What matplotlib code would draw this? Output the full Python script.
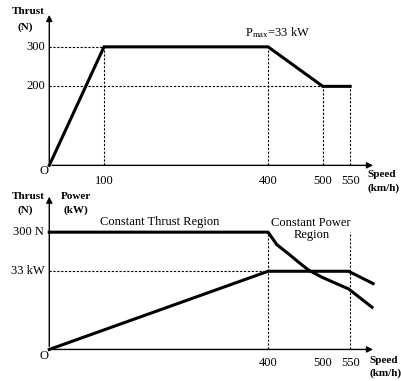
import matplotlib as mpl
import matplotlib.pyplot as plt

# data
speed_top = [0, 100, 400, 500, 550]
thrust_top = [0, 300, 300, 200, 200]

speed_thrust = [0, 400, 416, 437, 455, 474, 498, 532, 547, 590]
thrust_bot = [300, 300, 268, 245, 224, 203, 185, 164, 155, 108]

speed_power = [0, 400, 547, 592]
power_bot = [0, 33, 33, 27.8]
power_scale = 200 / 33.0  # 33 kW drawn at the 200 level

top_ticks = [100, 400, 500, 550]
bot_ticks = [400, 500, 550]

# configuration
mpl.rcParams['font.family'] = 'Liberation Serif'
mpl.rcParams['font.size'] = 9
mpl.rcParams['mathtext.default'] = 'regular'

fig = plt.figure(figsize=(4.02, 3.81), dpi=100)
ax1 = fig.add_axes([0, 190 / 381, 1, 191 / 381])
ax2 = fig.add_axes([0, 0, 1, 190 / 381])
ax1.set_xlim(-90.1, 644.8)
ax1.set_ylim(-64.9, 418.6)
ax2.set_xlim(-90.1, 644.8)
ax2.set_ylim(-80.7, 405.3)

dot = dict(color='k', lw=0.8, ls=(0, (2, 1.5)))
arrow = dict(arrowstyle='-|>', color='k', lw=1.0, mutation_scale=9)

for ax, ytop in [(ax1, 388), (ax2, 398)]:
    ax.axis('off')
    ax.annotate('', xy=(597, 0), xytext=(0, 0), arrowprops=arrow)
    ax.annotate('', xy=(0, ytop), xytext=(0, 0), arrowprops=arrow)

# top chart
ax1.plot([0, 100], [300, 300], **dot)
ax1.plot([0, 500], [200, 200], **dot)
ax1.plot([100, 100], [0, 300], **dot)
ax1.plot([400, 400], [0, 300], **dot)
ax1.plot([500, 500], [0, 200], **dot)
ax1.plot([550, 550], [0, 200], **dot)
ax1.plot(speed_top, thrust_top, color='k', lw=2.2, solid_joinstyle='miter')

ax1.text(-38, 390, 'Thrust', ha='center', va='center', fontsize=8, fontweight='bold')
ax1.text(-44, 350, '(N)', ha='center', va='center', fontsize=8, fontweight='bold')
ax1.text(-8, 300, '300', ha='right', va='center')
ax1.text(-8, 200, '200', ha='right', va='center')
ax1.text(-10, -14, 'O', ha='center', va='center')
for t in top_ticks:
    ax1.text(t, -39, str(t), ha='center', va='center')
ax1.text(358, 335, 'P$_{max}$=33 kW', ha='left', va='center')
ax1.text(582, -24, 'Speed', ha='left', va='center', fontsize=8, fontweight='bold')
ax1.text(582, -58, '(km/h)', ha='left', va='center', fontsize=8, fontweight='bold')

# bottom chart
ax2.plot([0, 400], [200, 200], **dot)
ax2.plot([400, 400], [0, 300], **dot)
ax2.plot([550, 550], [0, 300], **dot)
ax2.plot(speed_thrust, thrust_bot, color='k', lw=2.2)
ax2.plot(speed_power, [p * power_scale for p in power_bot], color='k', lw=2.2)

ax2.text(-38, 390, 'Thrust', ha='center', va='center', fontsize=8, fontweight='bold')
ax2.text(-44, 357, '(N)', ha='center', va='center', fontsize=8, fontweight='bold')
ax2.text(49, 390, 'Power', ha='center', va='center', fontsize=8, fontweight='bold')
ax2.text(49, 357, '(kW)', ha='center', va='center', fontsize=8, fontweight='bold')
ax2.text(-9, 300, '300 N', ha='right', va='center')
ax2.text(-9, 200, '33 kW', ha='right', va='center')
ax2.text(-10, -17, 'O', ha='center', va='center')
for t in bot_ticks:
    ax2.text(t, -35, str(t), ha='center', va='center')
ax2.text(202, 327, 'Constant Thrust Region', ha='center', va='center')
ax2.text(478, 324, 'Constant Power', ha='center', va='center')
ax2.text(480, 293, 'Region', ha='center', va='center')
ax2.text(585, -27, 'Speed', ha='left', va='center', fontsize=8, fontweight='bold')
ax2.text(585, -60, '(km/h)', ha='left', va='center', fontsize=8, fontweight='bold')

plt.savefig('out.png', dpi=100)
